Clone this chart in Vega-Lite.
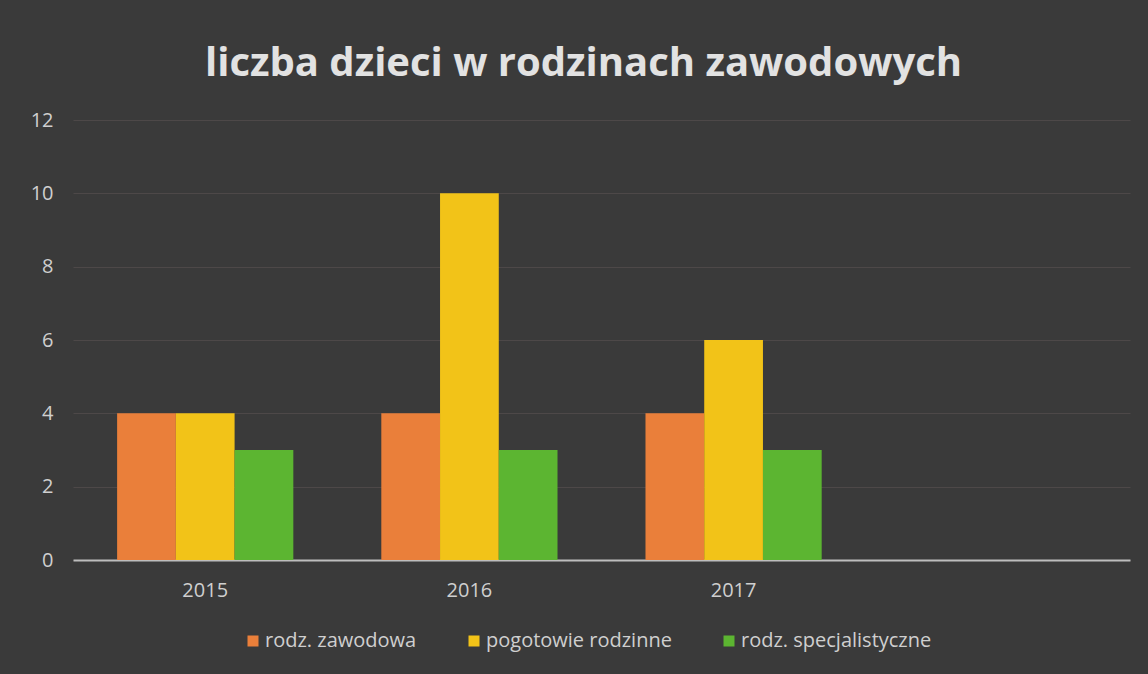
{
  "$schema": "https://vega.github.io/schema/vega-lite/v6.json",
  "autosize": {"type": "none"},
  "width": 1057,
  "height": 440,
  "padding": {"left": 73, "top": 120, "right": 18, "bottom": 114},
  "background": "#3a3a3a",
  "title": {
    "text": "liczba dzieci w rodzinach zawodowych",
    "font": "Open Sans",
    "fontSize": 40,
    "fontWeight": "bold",
    "color": "#e2e2e2",
    "anchor": "middle",
    "dx": -18,
    "offset": 26
  },
  "data": {
    "values": [
      {"rok": "2015", "typ": "rodz. zawodowa", "liczba": 4},
      {"rok": "2015", "typ": "pogotowie rodzinne", "liczba": 4},
      {"rok": "2015", "typ": "rodz. specjalistyczne", "liczba": 3},
      {"rok": "2016", "typ": "rodz. zawodowa", "liczba": 4},
      {"rok": "2016", "typ": "pogotowie rodzinne", "liczba": 10},
      {"rok": "2016", "typ": "rodz. specjalistyczne", "liczba": 3},
      {"rok": "2017", "typ": "rodz. zawodowa", "liczba": 4},
      {"rok": "2017", "typ": "pogotowie rodzinne", "liczba": 6},
      {"rok": "2017", "typ": "rodz. specjalistyczne", "liczba": 3}
    ]
  },
  "mark": {"type": "bar"},
  "encoding": {
    "x": {
      "field": "rok",
      "type": "nominal",
      "scale": {"domain": ["2015", "2016", "2017", ""], "paddingInner": 0.333, "paddingOuter": 0.167},
      "axis": {
        "title": null,
        "labelAngle": 0,
        "ticks": false,
        "labelPadding": 20,
        "domainColor": "#bdbdbd",
        "domainWidth": 2,
        "labelColor": "#cfcfcf",
        "labelFont": "Open Sans",
        "labelFontSize": 20
      }
    },
    "xOffset": {
      "field": "typ",
      "type": "nominal",
      "sort": ["rodz. zawodowa", "pogotowie rodzinne", "rodz. specjalistyczne"]
    },
    "y": {
      "field": "liczba",
      "type": "quantitative",
      "scale": {"domain": [0, 12], "nice": false},
      "axis": {
        "title": null,
        "values": [0, 2, 4, 6, 8, 10, 12],
        "ticks": false,
        "domain": false,
        "labelPadding": 20,
        "gridColor": "#4d4848",
        "gridWidth": 1,
        "labelColor": "#cfcfcf",
        "labelFont": "Open Sans",
        "labelFontSize": 20
      }
    },
    "color": {
      "field": "typ",
      "type": "nominal",
      "sort": ["rodz. zawodowa", "pogotowie rodzinne", "rodz. specjalistyczne"],
      "scale": {
        "domain": ["rodz. zawodowa", "pogotowie rodzinne", "rodz. specjalistyczne"],
        "range": ["#ea7f3a", "#f2c318", "#5cb531"]
      },
      "legend": {
        "title": null,
        "orient": "none",
        "legendX": 170,
        "legendY": 511,
        "direction": "horizontal",
        "symbolType": "square",
        "symbolSize": 121,
        "symbolStrokeWidth": 0,
        "symbolOpacity": 1,
        "labelFont": "Open Sans",
        "labelFontSize": 20,
        "labelColor": "#cfcfcf",
        "labelOffset": 2,
        "columnPadding": 47,
        "labelLimit": 400
      }
    }
  },
  "config": {
    "view": {"stroke": null},
    "axis": {"gridOpacity": 1}
  }
}
